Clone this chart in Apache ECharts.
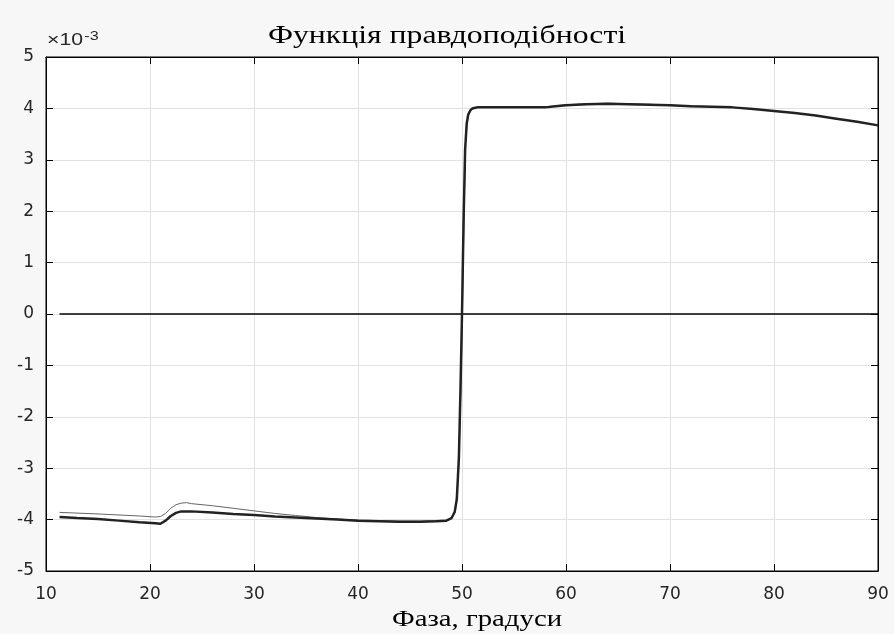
<!DOCTYPE html>
<html>
<head>
<meta charset="utf-8">
<script src="https://cdn.jsdelivr.net/npm/echarts@6/dist/echarts.min.js"></script>
<style>
  html, body { margin: 0; padding: 0; background: #f7f7f7; }
  #chart { width: 894px; height: 634px; }
</style>
</head>
<body>
<div id="chart"></div>
<script>
// values on y are in units of 1e-3
var xTicks = [10, 20, 30, 40, 50, 60, 70, 80, 90];
var yTicks = [-5, -4, -3, -2, -1, 0, 1, 2, 3, 4, 5];

var phaseThick = [11.3, 13, 15, 17, 19, 20.5, 21, 21.5, 22, 22.5, 23, 24, 26, 28, 30, 32, 34, 36, 38, 40,
  42, 44, 46, 47.5, 48.5, 49, 49.3, 49.5, 49.7, 49.85, 50, 50.15, 50.3, 50.45, 50.6, 50.8, 51, 51.5, 52,
  54, 56, 58, 59, 60, 62, 64, 66, 68, 70, 72, 74, 76, 78, 80, 82, 84, 86, 88, 90];
var likeThick = [-3.95, -3.97, -3.99, -4.02, -4.05, -4.07, -4.08, -4.02, -3.93, -3.87, -3.84, -3.84, -3.86, -3.89, -3.91, -3.94, -3.96, -3.98, -4.0, -4.02,
  -4.03, -4.04, -4.04, -4.03, -4.02, -3.97, -3.85, -3.6, -2.8, -1.5, 0, 1.8, 3.2, 3.7, 3.88, 3.96, 4.0, 4.02, 4.02,
  4.02, 4.02, 4.02, 4.04, 4.06, 4.08, 4.09, 4.08, 4.07, 4.06, 4.04, 4.03, 4.02, 3.99, 3.95, 3.91, 3.86, 3.8, 3.74, 3.67];

var phaseThin = [11.3, 15, 19, 20.5, 21, 21.5, 22, 22.5, 23, 23.5, 24, 26, 28, 30, 32, 34, 36, 38, 40,
  42, 44, 46, 47.5, 48.5, 49, 49.3, 49.5, 49.7, 49.9, 50.05, 50.2, 50.35, 50.5, 50.65, 50.85, 51.1, 51.5, 52,
  54, 56, 58, 59, 60, 62, 64, 66, 68, 70, 72, 74, 76, 78, 80, 82, 84, 86, 88, 90];
var likeThin = [-3.86, -3.89, -3.93, -3.95, -3.94, -3.88, -3.78, -3.71, -3.68, -3.67, -3.69, -3.73, -3.78, -3.83, -3.88, -3.92, -3.96, -3.99, -4.01,
  -4.02, -4.03, -4.03, -4.02, -4.01, -3.96, -3.86, -3.65, -2.9, -1.4, 0.2, 2.0, 3.3, 3.75, 3.9, 3.98, 4.02, 4.03, 4.03,
  4.03, 4.03, 4.03, 4.05, 4.07, 4.09, 4.1, 4.09, 4.08, 4.06, 4.05, 4.03, 4.02, 3.99, 3.95, 3.91, 3.86, 3.8, 3.74, 3.67];

var phaseZero = [11.3, 90];
var likeZero = [0, 0];

function pairs(xs, ys) {
  return xs.map(function(x, i) { return [x, ys[i]]; });
}

var chart = echarts.init(document.getElementById('chart'));

var tickFont = { fontFamily: 'DejaVu Sans, Liberation Sans, sans-serif', fontSize: 17, color: '#262626' };
var serif = 'Liberation Serif, Times New Roman, serif';

var option = {
  animation: false,
  backgroundColor: '#f7f7f7',
  graphic: [
    {
      // title, glyphs are stretched wide in the original
      type: 'text',
      x: 447,
      y: 36,
      scaleX: 1.22,
      style: {
        text: 'Функція правдоподібності',
        font: '26px ' + serif,
        fill: '#000',
        align: 'center',
        verticalAlign: 'middle',
      },
    },
    {
      type: 'text',
      x: 477,
      y: 620,
      scaleX: 1.25,
      style: {
        text: 'Фаза, градуси',
        font: '23px ' + serif,
        fill: '#000',
        align: 'center',
        verticalAlign: 'middle',
      },
    },
    {
      type: 'text',
      x: 47,
      y: 30,
      scaleX: 1.25,
      style: {
        text: '×10{sup|-3}',
        font: '17px Liberation Sans, Arial, sans-serif',
        fill: '#262626',
        rich: { sup: { fontSize: 13, verticalAlign: 'top', padding: [0, 0, 8, 1] } },
      },
    },
  ],
  grid: {
    left: 46,
    right: 16,
    top: 57,
    bottom: 63,
    show: true,
    backgroundColor: '#ffffff',
    borderColor: '#000',
    borderWidth: 1,
  },
  xAxis: [
    {
      type: 'value',
      min: 10,
      max: 90,
      interval: 10,
      axisLine: { onZero: false, lineStyle: { color: '#000' } },
      axisTick: { inside: true, length: 7, lineStyle: { color: '#000' } },
      axisLabel: Object.assign({ margin: 15 }, tickFont),
      splitLine: { show: true, lineStyle: { color: '#e2e2e2', width: 1 } },
    },
    {
      type: 'value',
      position: 'top',
      min: 10,
      max: 90,
      interval: 10,
      axisLine: { show: true, onZero: false, lineStyle: { color: '#000' } },
      axisTick: { show: true, inside: true, length: 7, lineStyle: { color: '#000' } },
      axisLabel: { show: false },
      splitLine: { show: false },
    },
  ],
  yAxis: [
    {
      type: 'value',
      min: -5,
      max: 5,
      interval: 1,
      axisLine: { show: true, onZero: false, lineStyle: { color: '#000' } },
      axisTick: { show: true, inside: true, length: 7, lineStyle: { color: '#000' } },
      axisLabel: Object.assign({ margin: 12 }, tickFont),
      splitLine: { show: true, lineStyle: { color: '#e2e2e2', width: 1 } },
    },
    {
      type: 'value',
      position: 'right',
      min: -5,
      max: 5,
      interval: 1,
      axisLine: { show: true, onZero: false, lineStyle: { color: '#000' } },
      axisTick: { show: true, inside: true, length: 7, lineStyle: { color: '#000' } },
      axisLabel: { show: false },
      splitLine: { show: false },
    },
  ],
  series: [
    {
      name: 'zero',
      type: 'line',
      data: pairs(phaseZero, likeZero),
      showSymbol: false,
      lineStyle: { color: '#000', width: 1.5 },
    },
    {
      name: 'thin',
      type: 'line',
      data: pairs(phaseThin, likeThin),
      showSymbol: false,
      lineStyle: { color: '#666', width: 1 },
    },
    {
      name: 'thick',
      type: 'line',
      data: pairs(phaseThick, likeThick),
      showSymbol: false,
      lineStyle: { color: '#222', width: 2.5 },
    },
  ],
};

chart.setOption(option);
</script>
</body>
</html>
